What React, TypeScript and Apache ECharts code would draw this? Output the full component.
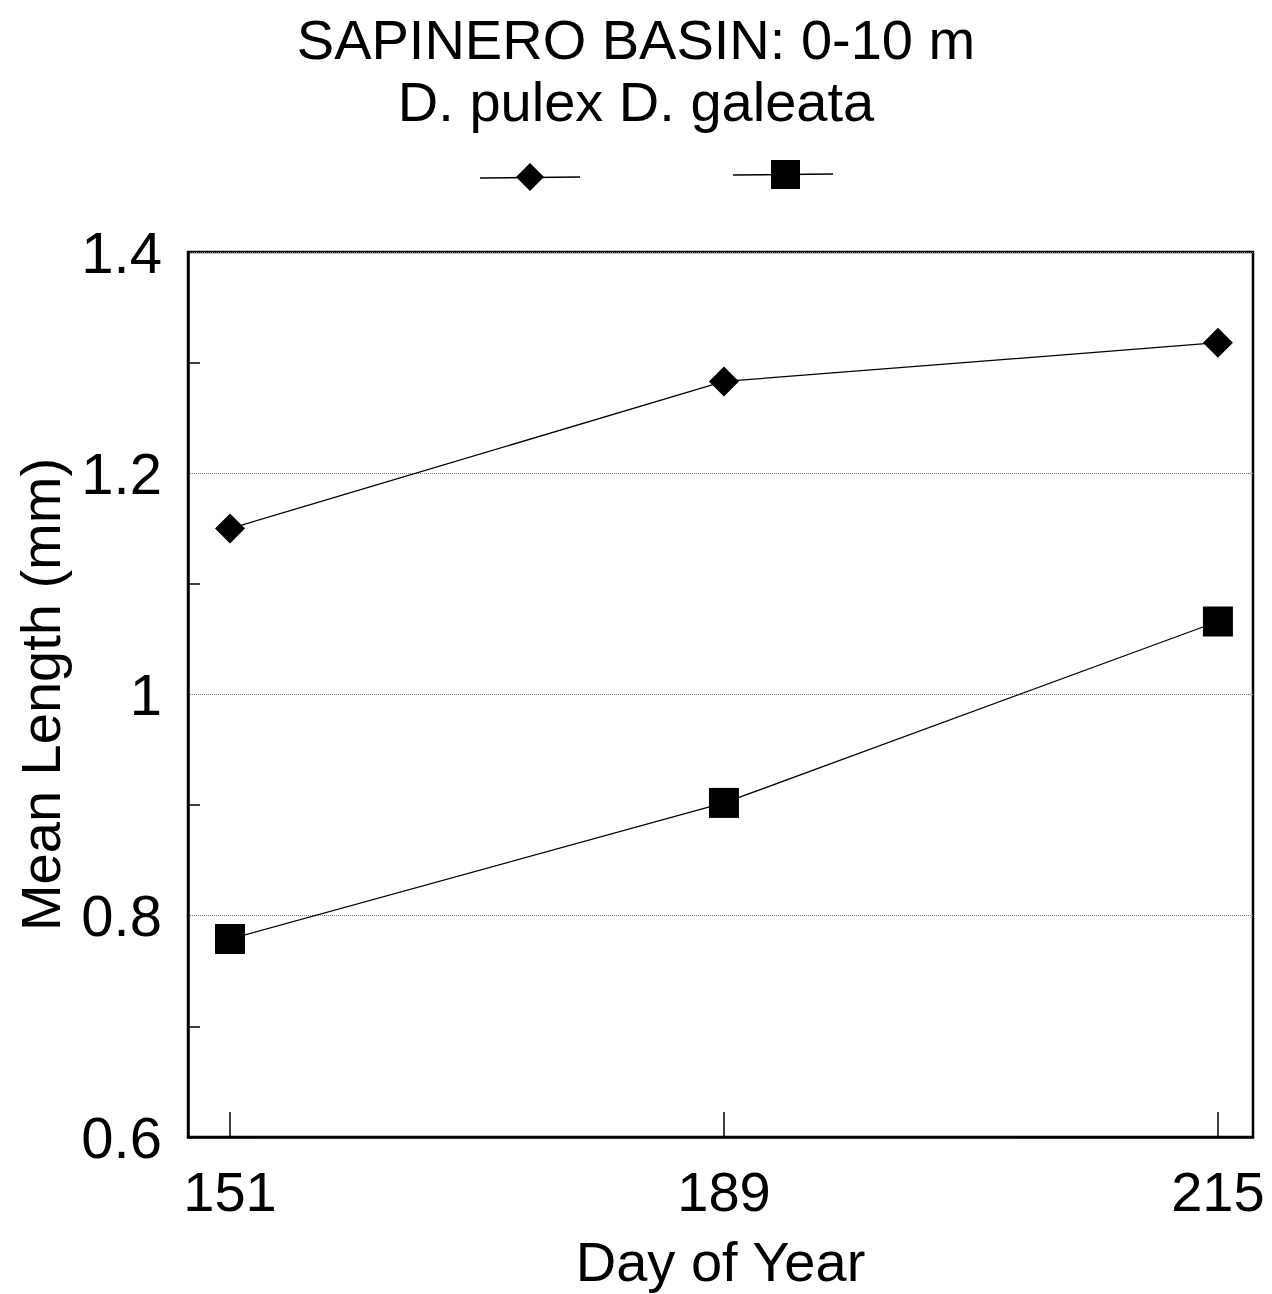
import React, { useEffect, useRef } from "react";
import * as echarts from "echarts";

// Day-of-year sampling dates (plotted at evenly spaced positions)
const days = ["151", "189", "215"];
// Mean body length (mm), 0-10 m stratum
const pulexLength = [1.15, 1.283, 1.318];
const galeataLength = [0.779, 0.902, 1.066];
const yTicks = [0.6, 0.8, 1.0, 1.2, 1.4];
const yMinorTicks = [0.7, 0.9, 1.1, 1.3];

const FONT = "Liberation Sans, Arial, sans-serif";
const GRID_LEFT = 188;
const GRID_RIGHT = 19;
const WIDTH = 1272;

export default function App() {
  const ref = useRef<HTMLDivElement>(null);

  useEffect(() => {
    if (!ref.current) return;
    const chart = echarts.init(ref.current, undefined, { renderer: "svg" });

    const toPoints = (vals: number[]) => vals.map((v, i) => [i, v]);
    const plotWidth = WIDTH - GRID_LEFT - GRID_RIGHT;

    chart.setOption({
      animation: false,
      backgroundColor: "#fff",
      textStyle: { fontFamily: FONT, color: "#000" },
      title: [
        {
          text: "SAPINERO BASIN: 0-10 m",
          left: "center",
          top: 6,
          textStyle: { fontFamily: FONT, fontSize: 56, fontWeight: "normal", color: "#000" },
        },
        {
          text: "D. pulex D. galeata",
          left: "center",
          top: 68,
          textStyle: { fontFamily: FONT, fontSize: 56, fontWeight: "normal", color: "#000" },
        },
      ],
      graphic: [
        { type: "line", shape: { x1: 480, y1: 178, x2: 580, y2: 177 }, style: { stroke: "#000", lineWidth: 1.5 } },
        {
          type: "polygon",
          shape: { points: [[530, 163], [544, 177], [530, 191], [516, 177]] },
          style: { fill: "#000" },
        },
        { type: "line", shape: { x1: 733, y1: 175, x2: 833, y2: 174 }, style: { stroke: "#000", lineWidth: 1.5 } },
        { type: "rect", shape: { x: 771, y: 160, width: 29, height: 29 }, style: { fill: "#000" } },
      ],
      grid: {
        left: GRID_LEFT,
        right: GRID_RIGHT,
        top: 252,
        bottom: 156,
        show: true,
        borderColor: "#000",
        borderWidth: 2.5,
        backgroundColor: "transparent",
      },
      xAxis: {
        type: "value",
        min: -0.085,
        max: 2.071,
        name: "Day of Year",
        nameLocation: "middle",
        nameGap: 96,
        nameTextStyle: { fontFamily: FONT, fontSize: 56, color: "#000" },
        axisLine: { show: true, onZero: false, lineStyle: { color: "#000", width: 2.5 } },
        axisTick: {
          show: true,
          inside: true,
          length: 25,
          customValues: [0, 1, 2],
          lineStyle: { color: "#000", width: 1.5 },
        },
        axisLabel: {
          customValues: [0, 1, 2],
          formatter: (v: number) => days[Math.round(v)] ?? "",
          fontFamily: FONT,
          fontSize: 56,
          color: "#000",
          margin: 26,
        },
        splitLine: { show: false },
      },
      yAxis: [
        {
          type: "value",
          min: 0.6,
          max: 1.4,
          interval: 0.2,
          name: "Mean Length (mm)",
          nameLocation: "middle",
          nameGap: 120,
          nameTextStyle: { fontFamily: FONT, fontSize: 56, color: "#000" },
          axisLine: { show: true, onZero: false, lineStyle: { color: "#000", width: 2.5 } },
          axisTick: { show: false },
          axisLabel: {
            customValues: yTicks,
            formatter: (v: number) => (Math.abs(v - 1) < 1e-9 ? "1" : v.toFixed(1)),
            fontFamily: FONT,
            fontSize: 58,
            color: "#000",
            margin: 26,
          },
          splitLine: {
            show: true,
            lineStyle: { color: "#777", type: "dotted", width: 1 },
          },
        },
        {
          // right-side axis shifted onto the left edge: its outward ticks point into the plot
          type: "value",
          position: "right",
          offset: -plotWidth,
          min: 0.6,
          max: 1.4,
          axisLine: { show: false, onZero: false },
          axisTick: {
            show: true,
            inside: false,
            length: 12,
            customValues: yMinorTicks,
            lineStyle: { color: "#000", width: 1.5 },
          },
          axisLabel: { show: false },
          splitLine: { show: false },
        },
      ],
      series: [
        {
          name: "D. pulex",
          type: "line",
          data: toPoints(pulexLength),
          symbol: "diamond",
          symbolSize: 30,
          itemStyle: { color: "#000" },
          lineStyle: { color: "#000", width: 1.3 },
        },
        {
          name: "D. galeata",
          type: "line",
          data: toPoints(galeataLength),
          symbol: "rect",
          symbolSize: 30,
          itemStyle: { color: "#000" },
          lineStyle: { color: "#000", width: 1.3 },
        },
      ],
    });

    return () => chart.dispose();
  }, []);

  return (
    <div
      ref={ref}
      style={{ position: "absolute", left: 0, top: 0, width: WIDTH, height: 1294 }}
    />
  );
}
